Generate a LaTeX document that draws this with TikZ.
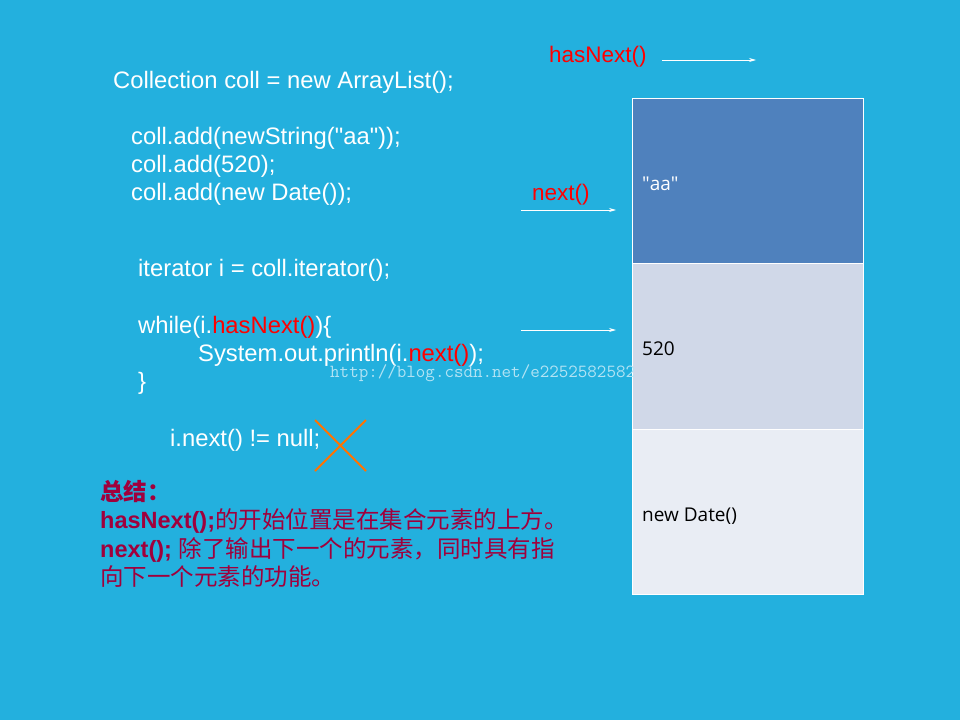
\documentclass[tikz,border=0pt]{standalone}
\usepackage{fontspec}
\usetikzlibrary{arrows.meta}
\setmainfont{Liberation Sans}
\newfontfamily\cjk{Noto Sans CJK SC}
\newfontfamily\osans{Open Sans}
\begin{document}
\begin{tikzpicture}[x=1pt,y=-1pt,
  code/.style={anchor=base west,inner sep=0pt,text=white,font=\fontsize{23.8}{26}\selectfont},
  sumtxt/.style={anchor=base west,inner sep=0pt,text=sumred,font=\fontsize{23.5}{26}\selectfont\bfseries},
  cell/.style={anchor=north west,draw=white,line width=0.8pt,minimum width=231pt,inner sep=0pt},
  celltxt/.style={anchor=base west,inner sep=0pt,font=\osans\fontsize{19}{22}\selectfont},
  ptr/.style={draw=white,line width=0.7pt,-{Stealth[length=7pt,width=4pt]}}]
\definecolor{bg}{RGB}{35,176,222}
\definecolor{sumred}{RGB}{160,0,60}
\definecolor{c1}{RGB}{79,129,189}
\definecolor{c2}{RGB}{208,216,232}
\definecolor{c3}{RGB}{233,237,244}
\fill[bg] (0,0) rectangle (960,720);
\useasboundingbox (0,0) rectangle (960,720);
\node[code] (l1) at (113,88) {Collection coll = new ArrayList();};
\node[code] (l2) at (131,144) {coll.add(newString(\textquotedbl aa\textquotedbl));};
\node[code] (l3) at (131,172) {coll.add(520);};
\node[code] (l4) at (131,200) {coll.add(new Date());};
\node[code] (l5) at (138,276) {iterator i = coll.iterator();};
\node[code] (l6) at (138,333) {while(i.\textcolor{red}{hasNext()})\{};
\node[code] (l7) at (198,361) {System.out.println(i.\textcolor{red}{next()});};
\node[code] (l8) at (138,389) {\}};
\node[code] (l9) at (170,446) {i.next() != null;};
\coordinate (xa) at (315,420); \coordinate (xb) at (366,471);
\coordinate (xc) at (366,420); \coordinate (xd) at (315,471);
\draw[orange!90!red,line width=2pt] (xa) -- (xb) (xc) -- (xd);
\node[sumtxt] (s1) at (100,500) {\cjk 总结：};
\node[sumtxt] (s2) at (100,528) {hasNext();\cjk\mdseries 的开始位置是在集合元素的上方。};
\node[sumtxt] (s3) at (100,557) {next(); \cjk\mdseries 除了输出下一个的元素，同时具有指};
\node[sumtxt] (s4) at (100,585) {\cjk\mdseries 向下一个元素的功能。};
\node[cell,fill=c1,minimum height=165pt] (b1) at (632,98) {};
\node[cell,fill=c2,minimum height=166pt] (b2) at (632,263) {};
\node[cell,fill=c3,minimum height=165pt] (b3) at (632,429) {};
\node[celltxt,text=white] (t1) at (642,190) {\textquotedbl aa\textquotedbl};
\node[celltxt,text=black] (t2) at (642,355) {520};
\node[celltxt,text=black] (t3) at (642,521) {new Date()};
\node[anchor=base west,inner sep=0pt,text=white!65!bg,font=\ttfamily\fontsize{18.5}{20}\selectfont] (wm) at (330,377) {http://blog.csdn.net/e2252582582};
\node[anchor=base west,inner sep=0pt,text=red,font=\fontsize{22.5}{24}\selectfont] (hn) at (549,62) {hasNext()};
\node[anchor=base west,inner sep=0pt,text=red,font=\fontsize{22.5}{24}\selectfont] (nx) at (532,200) {next()};
\coordinate (a1s) at (662,60); \coordinate (a1e) at (756,60);
\coordinate (a2s) at (521,210); \coordinate (a2e) at (616,210);
\coordinate (a3s) at (521,330); \coordinate (a3e) at (616,330);
\draw[ptr] (a1s) -- (a1e);
\draw[ptr] (a2s) -- (a2e);
\draw[ptr] (a3s) -- (a3e);
\end{tikzpicture}
\end{document}
